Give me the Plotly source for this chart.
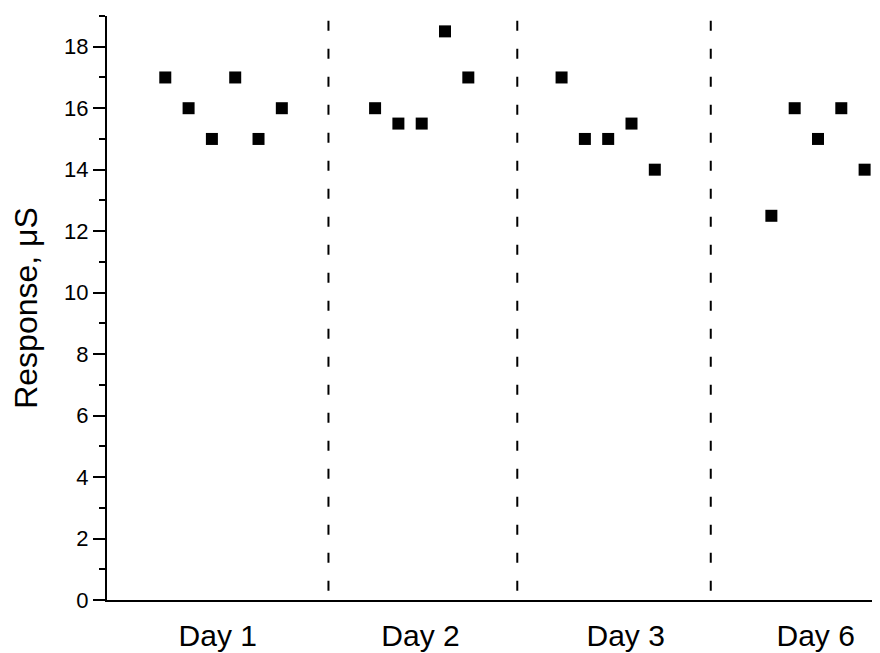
import plotly.graph_objects as go

# measurement positions (sample index) and responses per day
day1_x = [1, 2, 3, 4, 5, 6]
day1_y = [17, 16, 15, 17, 15, 16]
day2_x = [10, 11, 12, 13, 14]
day2_y = [16, 15.5, 15.5, 18.5, 17]
day3_x = [18, 19, 20, 21, 22]
day3_y = [17, 15, 15, 15.5, 14]
day6_x = [27, 28, 29, 30, 31]
day6_y = [12.5, 16, 15, 16, 14]

# group separators and group labels
separators = [8, 16.1, 24.4]
label_pos = [3.25, 11.95, 20.75, 28.9]
label_text = ['Day 1', 'Day 2', 'Day 3', 'Day 6']

font_family = 'Arial, Liberation Sans, sans-serif'

fig = go.Figure()
for xs, ys in [(day1_x, day1_y), (day2_x, day2_y), (day3_x, day3_y), (day6_x, day6_y)]:
    fig.add_trace(go.Scatter(
        x=xs, y=ys, mode='markers',
        marker=dict(symbol='square', size=12, color='black', line=dict(width=0)),
        showlegend=False,
    ))

for sx in separators:
    fig.add_shape(
        type='line', xref='x', yref='y',
        x0=sx, x1=sx, y0=0.3, y1=19,
        line=dict(color='black', width=2, dash='10px,18px'),
    )

fig.update_xaxes(
    range=[-1.5, 31.66],
    showline=True, linecolor='black', linewidth=2,
    showgrid=False, zeroline=False,
    tickvals=label_pos, ticktext=label_text,
    ticks='', ticklabelstandoff=8,
    tickfont=dict(size=30, color='black', family=font_family),
)
fig.update_yaxes(
    range=[0, 19],
    showline=True, linecolor='black', linewidth=2,
    showgrid=False, zeroline=False,
    tick0=0, dtick=2, ticks='outside', ticklen=12, tickwidth=2, tickcolor='black',
    minor=dict(dtick=1, ticks='outside', ticklen=6, tickwidth=2, tickcolor='black'),
    tickfont=dict(size=22, color='black', family=font_family),
    title=dict(text='Response, μS', standoff=26,
               font=dict(size=32, color='black', family=font_family)),
)

# page body adds an 8px offset, so the figure is 8px smaller than the window
fig.update_layout(
    width=872, height=645,
    margin=dict(l=99, r=0, t=8, b=53),
    plot_bgcolor='white', paper_bgcolor='white',
    font=dict(family=font_family, color='black'),
)

fig.write_html('out.html')
